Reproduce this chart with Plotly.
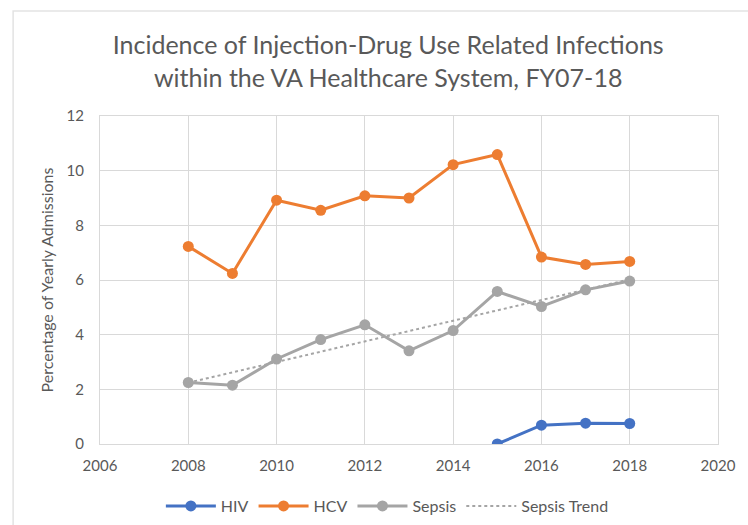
import numpy as np
import plotly.graph_objects as go

years = [2008, 2009, 2010, 2011, 2012, 2013, 2014, 2015, 2016, 2017, 2018]
hiv_years = [2015, 2016, 2017, 2018]
hiv = [0.0, 0.69, 0.76, 0.75]
hcv = [7.23, 6.24, 8.92, 8.55, 9.08, 9.0, 10.22, 10.59, 6.84, 6.57, 6.68]
sepsis = [2.25, 2.15, 3.11, 3.82, 4.36, 3.41, 4.15, 5.58, 5.03, 5.64, 5.96]
x_ticks = [2006, 2008, 2010, 2012, 2014, 2016, 2018, 2020]
y_ticks = [0, 2, 4, 6, 8, 10, 12]

# linear trend line of Sepsis (Excel-style trendline)
slope, intercept = np.polyfit(years, sepsis, 1)
trend = [slope * x + intercept for x in years]

FONT = "Lato"
TXT = "#595959"
GRID = "#d9d9d9"

fig = go.Figure()
fig.add_trace(go.Scatter(x=hiv_years, y=hiv, name="HIV", mode="lines+markers",
                         line=dict(color="#4472C4", width=3),
                         marker=dict(size=11, color="#4472C4")))
fig.add_trace(go.Scatter(x=years, y=hcv, name="HCV", mode="lines+markers",
                         line=dict(color="#ED7D31", width=3),
                         marker=dict(size=11, color="#ED7D31")))
fig.add_trace(go.Scatter(x=years, y=sepsis, name="Sepsis", mode="lines+markers",
                         line=dict(color="#A5A5A5", width=3),
                         marker=dict(size=11, color="#A5A5A5")))
fig.add_trace(go.Scatter(x=years, y=trend, name="Sepsis Trend", mode="lines",
                         line=dict(color="#A5A5A5", width=2, dash="dot")))

fig.update_layout(
    width=748, height=525,
    margin=dict(l=100, r=22, t=116, b=81),
    paper_bgcolor="white", plot_bgcolor="white",
    font=dict(family=FONT, color=TXT, size=15),
    title=dict(text="Incidence of Injection-Drug Use Related Infections<br>within the VA Healthcare System, FY07-18",
               x=0.519, xanchor="center", y=1 - 54 / 525, yanchor="middle", yref="container",
               font=dict(family=FONT, size=25, color=TXT)),
    xaxis=dict(range=[2006, 2020], tickvals=x_ticks, showgrid=True, gridcolor=GRID, gridwidth=1,
               zeroline=False, showline=True, linecolor=GRID, mirror=True,
               ticks="", ticklabelstandoff=8, tickfont=dict(size=15, color=TXT)),
    yaxis=dict(range=[0, 12], tickvals=y_ticks, showgrid=True, gridcolor=GRID, gridwidth=1,
               zeroline=False, showline=True, linecolor=GRID, mirror=True,
               ticks="", ticklabelstandoff=12, tickfont=dict(size=15, color=TXT),
               title=dict(text="Percentage of Yearly Admissions", standoff=8,
                          font=dict(size=16, color=TXT))),
    legend=dict(orientation="h", x=0.465, xanchor="center", y=1 - 506 / 525, yanchor="middle",
                yref="container", font=dict(size=16, color=TXT), itemwidth=50,
                traceorder="normal"),
    shapes=[dict(type="rect", xref="paper", yref="paper",
                 x0=(12 - 100) / 626, x1=1.2, y0=-0.4, y1=(444 - 11) / 328,
                 line=dict(color="#e3e3e3", width=1.5), fillcolor="rgba(0,0,0,0)", layer="below")],
)

fig.write_html("out.html")
